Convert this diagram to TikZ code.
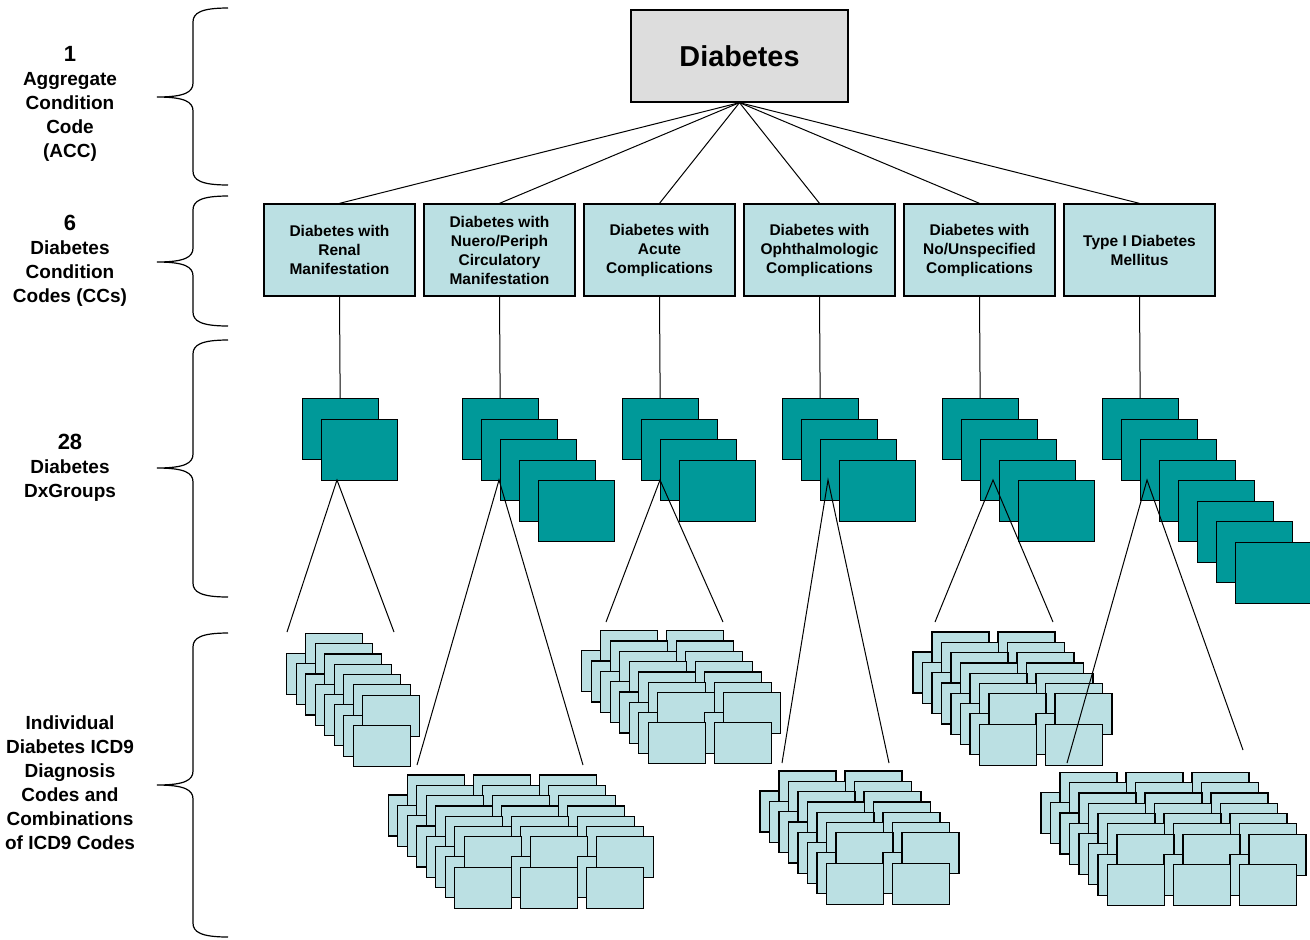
\documentclass[tikz,border=0pt]{standalone}
\usepackage{fontspec}
\setmainfont{Liberation Sans}
\usepackage{tikz}
\definecolor{TopGray}{RGB}{221,221,221}
\definecolor{LightBlue}{RGB}{187,224,227}
\definecolor{Teal}{RGB}{0,153,153}
\tikzset{
	topbox/.style={draw,fill=TopGray,line width=0.65pt,minimum width=108.5pt,minimum height=46pt,inner sep=0pt,font=\bfseries\fontsize{14.4}{17}\selectfont},
	ccbox/.style={draw,fill=LightBlue,line width=0.65pt,minimum width=75.5pt,minimum height=46pt,inner sep=0pt,align=center,font=\bfseries\fontsize{7.75}{9.5}\selectfont},
	dxbox/.style={draw,fill=Teal,line width=0.65pt,minimum width=38pt,minimum height=30.5pt,inner sep=0pt,anchor=north west},
	icdbox/.style={draw=black,fill=LightBlue,line width=0.6pt},
	lvltext/.style={align=center,font=\bfseries\fontsize{9.5}{12}\selectfont},
	link/.style={black,line width=0.5pt},
	lvlbrace/.style={black,line width=0.6pt}
}
% brace: top, tip, bottom
\newcommand\levelbrace[3]{%
	\draw[lvlbrace] (228,#1) .. controls (201,#1) and (193,#1+5) .. (193,#1+14) -- (193,#2-14)
		.. controls (193,#2-5) and (185,#2) .. (157,#2)
		.. controls (185,#2) and (193,#2+5) .. (193,#2+14) -- (193,#3-14)
		.. controls (193,#3-5) and (201,#3) .. (228,#3);}
% pile of ICD9 code cards: left, top, columns
\newcommand\icdpile[3]{%
	\foreach \r in {0,...,7}{
		\foreach \c in {1,...,#3}{
			\filldraw[icdbox] ({#1+66*(\c-1)+9.5*\r},{#2+10.3*\r}) rectangle ++(57,41);
			\ifnum\r<7
				\filldraw[icdbox] ({#1+66*(\c-1)+9.5*\r+19},{#2+10.3*\r-20}) rectangle ++(57,41);
			\fi
		}
	}}
\newcommand\numsize{\fontsize{11}{12}\selectfont}

\begin{document}
\begin{tikzpicture}[x=0.5pt,y=-0.5pt]
		\useasboundingbox (0,0) rectangle (1310,939);

		% level labels
		\node[lvltext] (lvl1) at (70,104) {{\numsize 1}\\Aggregate\\Condition\\Code\\(ACC)};
		\node[lvltext] (lvl2) at (70,261) {{\numsize 6}\\Diabetes\\Condition\\Codes (CCs)};
		\node[lvltext] (lvl3) at (70,468) {{\numsize 28}\\Diabetes\\DxGroups};
		\node[lvltext] (lvl4) at (70,783) {Individual\\Diabetes ICD9\\Diagnosis\\Codes and\\Combinations\\of ICD9 Codes};

		% braces
		\levelbrace{8}{97}{185}
		\levelbrace{196}{262}{326}
		\levelbrace{340}{468}{597}
		\levelbrace{633}{785}{937}

		% aggregate condition code
		\node[topbox] (acc) at (739.5,56) {Diabetes};

		% condition codes
		\node[ccbox] (cc0) at (339.5,250) {Diabetes with\\Renal\\Manifestation};
		\node[ccbox] (cc1) at (499.5,250) {Diabetes with\\Nuero/Periph\\Circulatory\\Manifestation};
		\node[ccbox] (cc2) at (659.5,250) {Diabetes with\\Acute\\Complications};
		\node[ccbox] (cc3) at (819.5,250) {Diabetes with\\Ophthalmologic\\Complications};
		\node[ccbox] (cc4) at (979.5,250) {Diabetes with\\No/Unspecified\\Complications};
		\node[ccbox] (cc5) at (1139.5,250) {Type I Diabetes\\Mellitus};

		\foreach \i in {0,...,5}{
			\draw[link] (acc.south) -- (cc\i.north);
		}

		% dxgroup stacks
		\foreach \k in {0,...,1} \node[dxbox] (dx0\k) at ({301.5+19*\k},{398+20.5*\k}) {};
		\foreach \k in {0,...,4} \node[dxbox] (dx1\k) at ({461.5+19*\k},{398+20.5*\k}) {};
		\foreach \k in {0,...,3} \node[dxbox] (dx2\k) at ({621.5+19*\k},{398+20.5*\k}) {};
		\foreach \k in {0,...,3} \node[dxbox] (dx3\k) at ({781.5+19*\k},{398+20.5*\k}) {};
		\foreach \k in {0,...,4} \node[dxbox] (dx4\k) at ({941.5+19*\k},{398+20.5*\k}) {};
		\foreach \k in {0,...,7} \node[dxbox] (dx5\k) at ({1101.5+19*\k},{398+20.5*\k}) {};

		\foreach \i in {0,...,5}{
			\draw[link] (cc\i.south) -- (dx\i0.north);
		}

		% icd9 code piles
		\icdpile{286.7}{653.3}{1}
		\icdpile{388.3}{795}{3}
		\icdpile{581.7}{650.7}{2}
		\icdpile{760}{791}{2}
		\icdpile{913}{652}{2}
		\icdpile{1041}{792.3}{3}

		% fans from dxgroups to codes
		\coordinate (apex0) at (337,480);  \coordinate (fanL0) at (287,632);  \coordinate (fanR0) at (394,632);
		\coordinate (apex1) at (499,480);  \coordinate (fanL1) at (417,765);  \coordinate (fanR1) at (583,765);
		\coordinate (apex2) at (660,480);  \coordinate (fanL2) at (606,622);  \coordinate (fanR2) at (723,622);
		\coordinate (apex3) at (828,480);  \coordinate (fanL3) at (782,763);  \coordinate (fanR3) at (889,763);
		\coordinate (apex4) at (993,480);  \coordinate (fanL4) at (935,622);  \coordinate (fanR4) at (1053,622);
		\coordinate (apex5) at (1147,480); \coordinate (fanL5) at (1067,763); \coordinate (fanR5) at (1243,750);
		\foreach \i in {0,...,5}{
			\draw[link] (fanL\i) -- (apex\i) -- (fanR\i);
		}

	\end{tikzpicture}
\end{document}
